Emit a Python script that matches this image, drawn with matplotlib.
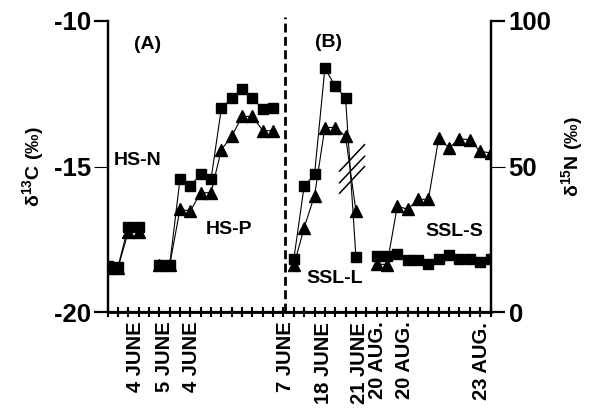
import numpy as np
import matplotlib
matplotlib.use("Agg")
import matplotlib.pyplot as plt

plt.rcParams['font.family'] = ['Liberation Sans', 'DejaVu Sans']
plt.rcParams['font.weight'] = 'bold'
plt.rcParams['mathtext.default'] = 'regular'

nan = np.nan
# sample index along the x axis (gaps = nan)
sample_idx = np.arange(38)
# squares: delta13C (left axis)
d13c = [-18.41, -18.46, -17.07, -17.07, nan, -18.4, -18.4, -15.44, -15.67, -15.27,
        -15.44, -13.0, -12.65, -12.35, -12.65, -13.03, -13.0, nan, -18.18, -15.67,
        -15.27, -11.63, -12.23, -12.65, -18.12, nan, -18.06, -18.09, -18.0, -18.23,
        -18.2, -18.35, -18.18, -18.04, -18.18, -18.18, -18.29, -18.18]
# triangles: delta15N (right axis)
d15n = [15.0, 15.0, 27.5, 27.5, nan, 16.0, 16.0, 35.3, 34.7, 41.0,
        41.0, 55.8, 60.4, 67.2, 67.2, 62.3, 62.3, nan, 16.0, 29.0,
        40.0, 63.4, 63.4, 60.4, 34.7, nan, 16.5, 16.3, 36.4, 35.3,
        38.7, 38.7, 59.8, 56.4, 59.5, 59.2, 55.2, 54.7]

date_labels = ["4 JUNE", "5 JUNE", "4 JUNE", "7 JUNE", "18 JUNE", "21 JUNE",
               "20 AUG.", "20 AUG.", "23 AUG."]
date_pos = [2.74, 5.53, 8.14, 17.16, 20.9, 24.35, 26.05, 28.7, 36.1]

group_labels = ["(A)", "(B)", "HS-N", "HS-P", "SSL-L", "SSL-S"]

fig = plt.figure(figsize=(5.95, 4.09), dpi=100)
ax = fig.add_axes([107.5/595, 1-312/409, (490.5-107.5)/595, (312-21)/409])
ax2 = ax.twinx()
ax.set_zorder(ax2.get_zorder() + 1)
ax.patch.set_visible(False)

ax2.plot(sample_idx, d15n, color='black', lw=0.8, marker='^', ms=8,
         mfc='black', mec='black')
ax.plot(sample_idx, d13c, color='black', lw=0.8, marker='s', ms=7.2,
        mfc='black', mec='black')

ax.set_xlim(0, 37)
ax.set_ylim(-20, -10)
ax2.set_ylim(0, 100)

for a in (ax, ax2):
    a.spines['top'].set_visible(False)
    for s in ('left', 'right', 'bottom'):
        a.spines[s].set_linewidth(1.6)
ax.spines['bottom'].set_linewidth(2.0)

# y ticks
ax.set_yticks([-20, -15, -10])
ax.set_yticklabels(["-20", "-15", "-10"], fontsize=18.5, fontweight='bold')
ax.tick_params(axis='y', direction='out', length=10, width=1.6, pad=2)
ax.yaxis.get_major_ticks()[1].tick1line.set_markeredgewidth(0.8)
ax2.set_yticks([0, 50, 100])
ax2.set_yticklabels(["0", "50", "100"], fontsize=18.5, fontweight='bold')
ax2.tick_params(axis='y', direction='out', length=10, width=1.6, pad=3)
ax2.yaxis.get_major_ticks()[1].tick2line.set_markeredgewidth(0.8)

# x ticks
ax.set_xticks(sample_idx, minor=True)
ax.tick_params(axis='x', which='minor', direction='inout', length=7.5, width=1.5)
ax.set_xticks(date_pos)
ax.set_xticklabels(date_labels, rotation=90, fontsize=14.5, fontweight='bold')
ax.tick_params(axis='x', which='major', length=0, pad=7)

# dashed separator
ax.plot([17.1, 17.1], [-20, -9.86], color='black', lw=2.0,
        ls=(0, (3.2, 1.6)), clip_on=False)

# break marks
for y0, y1 in [(-15.16, -14.25), (-15.56, -14.65), (-15.92, -15.0)]:
    ax.plot([22.42, 24.83], [y0, y1], color='black', lw=1.1)

txt_kw = dict(fontsize=14, fontweight='bold', ha='center', va='center')
ax.text(3.9, -10.8, group_labels[0], **txt_kw)
ax.text(21.35, -10.75, group_labels[1], **txt_kw)
ax.text(2.87, -14.8, group_labels[2], **txt_kw)
ax.text(11.76, -17.16, group_labels[3], **txt_kw)
ax.text(21.9, -18.85, group_labels[4], **txt_kw)
ax.text(33.5, -17.23, group_labels[5], **txt_kw)

fig.text(33/595, 1-167/409, r"δ$^{13}$C (‰)", rotation=90, fontsize=14,
         fontweight='bold', ha='center', va='center')
fig.text(572/595, 1-157/409, r"δ$^{15}$N (‰)", rotation=90, fontsize=14,
         fontweight='bold', ha='center', va='center')

fig.savefig("out.png", dpi=100)
